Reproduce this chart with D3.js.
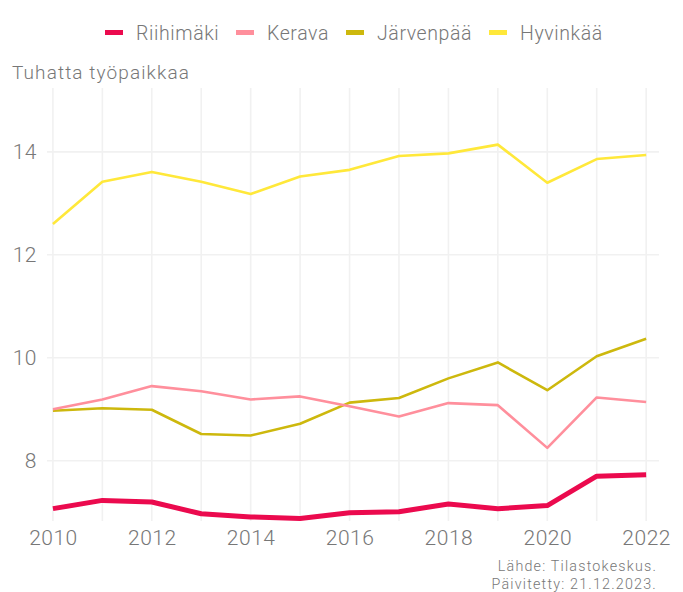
<!DOCTYPE html>
<html><head><meta charset="utf-8">
<script src="https://cdn.jsdelivr.net/npm/d3@7"></script>
<style>body{margin:0;background:#fff}svg{display:block}text{font-family:Roboto,sans-serif;font-weight:300}</style>
</head><body><svg id="c" width="683" height="592"></svg>
<script>
const years = [2010,2011,2012,2013,2014,2015,2016,2017,2018,2019,2020,2021,2022];
const seriesNames = ["Riihimäki","Kerava","Järvenpää","Hyvinkää"];
const riihimaki = [7.07,7.23,7.20,6.97,6.91,6.88,6.99,7.01,7.16,7.07,7.13,7.70,7.73];
const kerava    = [9.00,9.19,9.45,9.35,9.19,9.25,9.06,8.86,9.12,9.08,8.25,9.23,9.14];
const jarvenpaa = [8.97,9.02,8.99,8.52,8.49,8.72,9.13,9.22,9.60,9.91,9.37,10.03,10.37];
const hyvinkaa  = [12.60,13.42,13.61,13.42,13.18,13.52,13.65,13.92,13.97,14.14,13.40,13.86,13.94];
const yTicks = [8,10,12,14];
const xTicks = [2010,2012,2014,2016,2018,2020,2022];
const colors = ["#EB0A4E","#FF8F9C","#CDB80D","#FFE83A"];
const widths = [5,2.6,2.6,2.6];
const values = [riihimaki,kerava,jarvenpaa,hyvinkaa];

(function(){
const svg = d3.select("#c");
const pL=47, pR=659, pT=88, pB=521;
const x = d3.scaleLinear().domain([2009.88,2022.26]).range([pL,pR]);
const y = d3.scaleLinear().domain([6.83,15.24]).range([pB,pT]);

const g = svg.append("g");
g.selectAll(".vg").data(years).join("line")
  .attr("x1",d=>x(d)).attr("x2",d=>x(d)).attr("y1",pT).attr("y2",pB)
  .attr("stroke","#f1f1f1").attr("stroke-width",1.6);
g.selectAll(".hg").data(yTicks).join("line")
  .attr("x1",pL).attr("x2",pR).attr("y1",d=>y(d)).attr("y2",d=>y(d))
  .attr("stroke","#f1f1f1").attr("stroke-width",1.6);

const xa = svg.append("g").attr("transform",`translate(0,${pB})`)
  .call(d3.axisBottom(x).tickValues(xTicks).tickFormat(d3.format("d")).tickSize(0).tickPadding(9));
xa.select(".domain").remove();
xa.selectAll("text").attr("fill","#777").attr("font-size",21).style("letter-spacing","0.5px").style("font-family","Roboto").style("font-weight",300);
const ya = svg.append("g").attr("transform",`translate(${pL},0)`)
  .call(d3.axisLeft(y).tickValues(yTicks).tickSize(0).tickPadding(10));
ya.select(".domain").remove();
ya.selectAll("text").attr("fill","#777").attr("font-size",21).style("letter-spacing","0.5px").style("font-family","Roboto").style("font-weight",300);

const line = d3.line().x((d,i)=>x(years[i])).y(d=>y(d));
[3,2,1,0].forEach(k=>{
  svg.append("path").datum(values[k]).attr("d",line)
    .attr("fill","none").attr("stroke",colors[k]).attr("stroke-width",widths[k])
    .attr("stroke-linejoin","round");
});

svg.append("text").attr("x",12).attr("y",79).attr("fill","#777").attr("font-size",19)
  .style("letter-spacing","1.1px").text("Tuhatta työpaikkaa");

const keyX = [105,236,346,489];
seriesNames.forEach((n,i)=>{
  svg.append("rect").attr("x",keyX[i]).attr("y",30).attr("width",18).attr("height",5).attr("fill",colors[i]);
  svg.append("text").attr("x",keyX[i]+31).attr("y",40).attr("fill","#777").attr("font-size",19.5)
    .style("letter-spacing","0.6px").text(n);
});

svg.append("text").attr("x",657).attr("y",571).attr("text-anchor","end").attr("fill","#777").attr("font-size",14.3)
  .style("letter-spacing","1.2px").text("Lähde: Tilastokeskus.");
svg.append("text").attr("x",657).attr("y",589).attr("text-anchor","end").attr("fill","#777").attr("font-size",14.3)
  .style("letter-spacing","1.2px").text("Päivitetty: 21.12.2023.");
})();
</script></body></html>
